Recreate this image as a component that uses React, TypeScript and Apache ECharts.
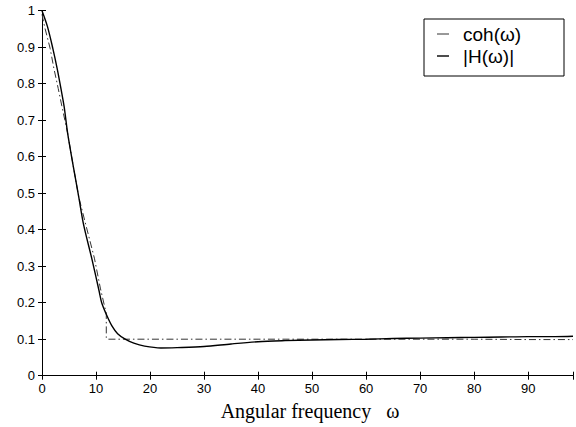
import React, { useEffect, useRef } from "react";
import * as echarts from "echarts";

const X_MAX = 98.3;
const xTicks = [0, 10, 20, 30, 40, 50, 60, 70, 80, 90];

// |H(ω)| — solid curve
const hOmega = [0, 1, 2, 2.8, 3.5, 4.1, 4.75, 5.8, 6.8, 7.7, 9.2, 10.6, 11.05, 12, 13, 14, 15.4, 17, 19, 22, 25, 30, 35, 40, 45, 50, 55, 60, 65, 70, 75, 80, 85, 90, 95, 98.3];
const hValues = [1.0, 0.957, 0.897, 0.842, 0.787, 0.737, 0.664, 0.573, 0.49, 0.414, 0.322, 0.23, 0.2, 0.165, 0.135, 0.115, 0.1, 0.089, 0.081, 0.076, 0.077, 0.08, 0.087, 0.093, 0.096, 0.098, 0.099, 0.1, 0.102, 0.103, 0.104, 0.105, 0.106, 0.107, 0.107, 0.108];

// coh(ω) — dash-dot curve
const cohOmega = [0, 0.5, 1.5, 2.2, 3.0, 3.7, 4.75, 5.8, 6.8, 8.1, 9.7, 10.8, 11.9, 11.9, 12, 20, 30, 40, 50, 60, 70, 80, 90, 98.3];
const cohValues = [0.99, 0.955, 0.897, 0.842, 0.787, 0.737, 0.664, 0.573, 0.49, 0.414, 0.322, 0.24, 0.17, 0.105, 0.1, 0.1, 0.1, 0.1, 0.1, 0.1, 0.1, 0.1, 0.099, 0.099];

const hData = hOmega.map((x, i) => [x, hValues[i]]);
const cohData = cohOmega.map((x, i) => [x, cohValues[i]]);

export default function App() {
  const ref = useRef<HTMLDivElement>(null);
  useEffect(() => {
    if (!ref.current) return;
    const chart = echarts.init(ref.current, null, { renderer: "svg" });
    const labelFont = { fontFamily: "Liberation Sans", fontSize: 13, color: "#000" };
    chart.setOption({
      animation: false,
      backgroundColor: "#fff",
      grid: { left: 42, right: 3, top: 10.7, bottom: 51.3, containLabel: false },
      xAxis: [
        {
          type: "value",
          min: 0,
          max: X_MAX,
          interval: 10,
          position: "bottom",
          axisLine: { show: true, lineStyle: { color: "#000", width: 1 } },
          axisTick: { show: true, inside: true, length: 4, lineStyle: { color: "#000" } },
          axisLabel: {
            ...labelFont,
            margin: 6,
            formatter: (v: number) => (xTicks.includes(Math.round(v * 1000) / 1000) ? String(v) : ""),
          },
          splitLine: { show: false },
        },
        {
          type: "value",
          min: 0,
          max: X_MAX,
          interval: 10,
          position: "top",
          axisLine: { show: true, lineStyle: { color: "#000", width: 1 } },
          axisTick: { show: true, inside: true, length: 4, lineStyle: { color: "#000" } },
          axisLabel: { show: false },
          splitLine: { show: false },
        },
      ],
      yAxis: [
        {
          type: "value",
          min: 0,
          max: 1,
          interval: 0.1,
          position: "left",
          axisLine: { show: true, lineStyle: { color: "#000", width: 1 } },
          axisTick: { show: true, inside: true, length: 4, lineStyle: { color: "#000" } },
          axisLabel: {
            ...labelFont,
            margin: 7,
            formatter: (v: number) => String(Math.round(v * 10) / 10),
          },
          splitLine: { show: false },
        },
        {
          type: "value",
          min: 0,
          max: 1,
          interval: 0.1,
          position: "right",
          axisLine: { show: true, lineStyle: { color: "#000", width: 1 } },
          axisTick: { show: true, inside: true, length: 4, lineStyle: { color: "#000" } },
          axisLabel: { show: false },
          splitLine: { show: false },
        },
      ],
      series: [
        {
          name: "coh(ω)",
          type: "line",
          data: cohData,
          showSymbol: false,
          lineStyle: { color: "#333", width: 1, type: [7, 3, 1.5, 3] },
          z: 2,
        },
        {
          name: "|H(ω)|",
          type: "line",
          data: hData,
          showSymbol: false,
          smooth: 0.3,
          lineStyle: { color: "#000", width: 1.4, type: "solid" },
          z: 3,
        },
      ],
      graphic: [
        {
          type: "rect",
          shape: { x: 424, y: 19, width: 140, height: 57 },
          style: { fill: "#fff", stroke: "#000", lineWidth: 1 },
          z: 10,
        },
        {
          type: "line",
          shape: { x1: 437, y1: 34, x2: 449, y2: 34 },
          style: { stroke: "#333", lineWidth: 1 },
          z: 11,
        },
        {
          type: "text",
          x: 463,
          y: 34,
          style: { text: "coh(ω)", font: "19px 'Liberation Sans'", fill: "#000", verticalAlign: "middle", align: "left" },
          z: 11,
        },
        {
          type: "line",
          shape: { x1: 437, y1: 56, x2: 449, y2: 56 },
          style: { stroke: "#000", lineWidth: 1.4 },
          z: 11,
        },
        {
          type: "text",
          x: 463,
          y: 56,
          style: { text: "|H(ω)|", font: "19px 'Liberation Sans'", fill: "#000", verticalAlign: "middle", align: "left" },
          z: 11,
        },
        {
          type: "text",
          x: 310,
          y: 411,
          style: { text: "Angular frequency   ω", font: "20px 'Liberation Serif'", fill: "#000", verticalAlign: "middle", align: "center" },
          z: 11,
        },
      ],
    });
    return () => chart.dispose();
  }, []);
  return <div ref={ref} style={{ width: 576, height: 427, position: "absolute", left: 0, top: 0 }} />;
}
